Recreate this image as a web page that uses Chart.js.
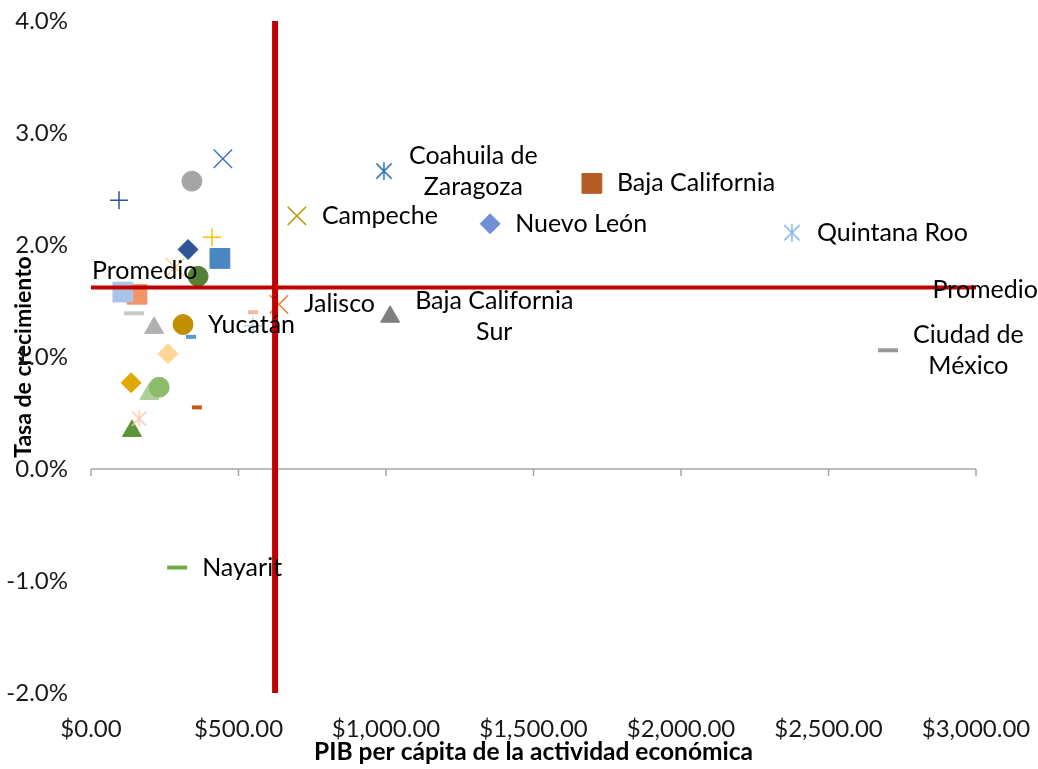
<!DOCTYPE html>
<html lang="es">
<head>
<meta charset="utf-8">
<title>PIB per cápita y tasa de crecimiento</title>
<script src="https://cdn.jsdelivr.net/npm/chart.js@4.4.1/dist/chart.umd.min.js"></script>
<style>
  html, body { margin: 0; padding: 0; background: #fff; }
  #grafica { display: block; }
</style>
</head>
<body>
<canvas id="grafica" width="1038" height="769"></canvas>
<script>
// solo se rotulan los estados que llevan etiqueta en la gráfica
const estados = ['', '', '', '', '', '', '', '', '', '', '', '', 'Yucatán', '', '', '', 'Jalisco', '', '', '', '', '', '', '', 'Nayarit',
  'Campeche', 'Coahuila de\nZaragoza', 'Nuevo León', 'Baja California', 'Quintana Roo', 'Baja California\nSur', 'Ciudad de\nMéxico'];
const pib = [447, 342, 95, 410, 329, 437, 285, 363, 108, 156, 146, 214, 312, 339, 549, 549, 637, 261, 136, 231, 198, 359, 163, 139, 292,
  698, 993, 1353, 1698, 2376, 1014, 2702];
const tasa = [2.77, 2.57, 2.40, 2.07, 1.96, 1.88, 1.80, 1.72, 1.58, 1.56, 1.39, 1.26, 1.29, 1.18, 1.40, 1.28, 1.47, 1.03, 0.77, 0.73, 0.67, 0.55, 0.45, 0.34, -0.88,
  2.26, 2.66, 2.19, 2.55, 2.11, 1.36, 1.06];

const promedioPib = 624;
const promedioTasa = 1.62;

const xTicks = [0, 500, 1000, 1500, 2000, 2500, 3000];
const yTicks = [-2, -1, 0, 1, 2, 3, 4];

// marcadores estilo Excel
const formas = ['crossRot', 'circle', 'cross', 'cross', 'rectRot', 'rect', 'crossRot', 'circle', 'rect', 'rect', 'line', 'triangle', 'circle', 'line', 'line', 'cross',
  'crossRot', 'rectRot', 'rectRot', 'circle', 'triangle', 'line', 'star', 'triangle', 'line',
  'crossRot', 'star', 'rectRot', 'rect', 'star', 'triangle', 'line'];
const colores = ['#4472C4', '#A5A5A5', '#2F5597', '#FFC000', '#2F5597', '#4A86C0', '#FFD580', '#548235', '#A9C4E8', '#F0956A', '#C9C9C9', '#B0B0B0', '#BF9000', '#5B9BD5', '#F4B9A0', '#BDD7EE',
  '#ED7D31', '#FFD699', '#E0A800', '#8CBB6A', '#ADCF98', '#C55A11', '#F8CBAD', '#5E9438', '#70AD47',
  '#BF9000', '#2E75B6', '#6F8FD6', '#B45C24', '#8AB7E8', '#7F7F7F', '#999999'];
const tamanos = [13, 10, 9, 9, 10, 14, 13, 10, 14, 14, 10, 11, 10, 5, 5, 9,
  13, 10, 10, 10, 11, 5, 19, 11, 10,
  13, 20, 10, 14, 20, 11, 10];

Chart.defaults.font.family = 'Lato, "Open Sans", sans-serif';

function asterisco(color, lado) {
  const c = document.createElement('canvas');
  c.width = lado; c.height = lado;
  const g = c.getContext('2d');
  const m = lado / 2, r = lado / 2 - 1, d = r * 0.85;
  g.strokeStyle = color;
  g.lineWidth = 1.5;
  g.beginPath();
  g.moveTo(m, m - r); g.lineTo(m, m + r);
  g.moveTo(m - d, m - d); g.lineTo(m + d, m + d);
  g.moveTo(m + d, m - d); g.lineTo(m - d, m + d);
  g.stroke();
  return c;
}

const datasets = estados.map((nombre, i) => {
  const forma = formas[i];
  const trazo = forma === 'cross' || forma === 'crossRot';
  return {
    label: nombre,
    data: [{ x: pib[i], y: tasa[i] }],
    pointStyle: forma === 'star' ? asterisco(colores[i], tamanos[i]) : forma,
    pointRadius: tamanos[i],
    pointBackgroundColor: colores[i],
    pointBorderColor: colores[i],
    pointBorderWidth: forma === 'line' ? 4 : (trazo ? 1.5 : 1),
    order: 2
  };
});

// lineas de promedio
datasets.push({
  label: 'Promedio PIB',
  data: [{ x: promedioPib, y: yTicks[0] }, { x: promedioPib, y: yTicks[yTicks.length - 1] }],
  showLine: true, borderColor: '#C00000', borderWidth: 6, pointRadius: 0, order: 1
});
datasets.push({
  label: 'Promedio tasa',
  data: [{ x: xTicks[0], y: promedioTasa }, { x: xTicks[xTicks.length - 1], y: promedioTasa }],
  showLine: true, borderColor: '#C00000', borderWidth: 4, pointRadius: 0, order: 1
});

// eje horizontal en 0% con marcas hacia abajo
const ejeCero = {
  id: 'ejeCero',
  beforeDatasetsDraw(chart) {
    const { ctx, scales: { x, y } } = chart;
    const y0 = y.getPixelForValue(0);
    ctx.save();
    ctx.strokeStyle = '#A6A6A6';
    ctx.lineWidth = 1.5;
    ctx.beginPath();
    ctx.moveTo(x.getPixelForValue(xTicks[0]), y0);
    ctx.lineTo(x.getPixelForValue(xTicks[xTicks.length - 1]), y0);
    xTicks.forEach(v => {
      const px = x.getPixelForValue(v);
      ctx.moveTo(px, y0);
      ctx.lineTo(px, y0 + 7);
    });
    ctx.stroke();
    ctx.restore();
  }
};

const etiquetas = {
  id: 'etiquetas',
  afterDatasetsDraw(chart) {
    const { ctx, scales: { x, y } } = chart;
    ctx.save();
    ctx.font = '25px Lato, "Open Sans", sans-serif';
    ctx.fillStyle = '#000';
    ctx.textBaseline = 'middle';
    ctx.textAlign = 'center';
    estados.forEach((nombre, i) => {
      if (!nombre) return;
      const lineas = nombre.split('\n');
      const ancho = Math.max(...lineas.map(l => ctx.measureText(l).width));
      const cx = x.getPixelForValue(pib[i]) + 25 + ancho / 2;
      const cy = y.getPixelForValue(tasa[i]);
      lineas.forEach((l, k) => ctx.fillText(l, cx, cy + (k - (lineas.length - 1) / 2) * 31));
    });
    const yp = y.getPixelForValue(promedioTasa);
    ctx.textAlign = 'left';
    ctx.fillText('Promedio', x.getPixelForValue(xTicks[0]) + 1, yp - 17);
    ctx.textAlign = 'right';
    ctx.fillText('Promedio', chart.width, yp + 2);
    ctx.restore();
  }
};

new Chart(document.getElementById('grafica'), {
  type: 'scatter',
  data: { datasets: datasets },
  plugins: [ejeCero, etiquetas],
  options: {
    responsive: false,
    animation: false,
    devicePixelRatio: 1,
    layout: { padding: { top: 10, right: 62, bottom: 0, left: 0 } },
    plugins: { legend: { display: false }, tooltip: { enabled: false } },
    scales: {
      x: {
        type: 'linear',
        min: xTicks[0],
        max: xTicks[xTicks.length - 1],
        afterBuildTicks: s => { s.ticks = xTicks.map(v => ({ value: v })); },
        afterFit: s => { s.height = 76; s.paddingLeft = 0; s.paddingRight = 0; },
        grid: { display: false, drawTicks: false },
        border: { display: false },
        ticks: {
          padding: 22,
          autoSkip: false,
          maxRotation: 0,
          color: '#1a1a1a',
          font: { size: 24 },
          callback: v => '$' + v.toLocaleString('en-US', { minimumFractionDigits: 2, maximumFractionDigits: 2 })
        },
        title: {
          display: true,
          text: 'PIB per cápita de la actividad económica',
          color: '#000',
          font: { size: 24.5, weight: 'bold' },
          padding: { top: 0, bottom: 2 }
        }
      },
      y: {
        type: 'linear',
        min: yTicks[0],
        max: yTicks[yTicks.length - 1],
        afterBuildTicks: s => { s.ticks = yTicks.map(v => ({ value: v })); },
        afterFit: s => { s.width = 91; s.paddingTop = 0; s.paddingBottom = 0; },
        grid: { display: false, drawTicks: false },
        border: { display: false },
        ticks: {
          padding: 23,
          color: '#1a1a1a',
          font: { size: 24 },
          callback: v => v.toFixed(1) + '%'
        },
        title: {
          display: true,
          text: 'Tasa de crecimiento',
          color: '#000',
          font: { size: 23, weight: 'bold' },
          padding: { top: 10, bottom: 0 }
        }
      }
    }
  }
});
</script>
</body>
</html>
